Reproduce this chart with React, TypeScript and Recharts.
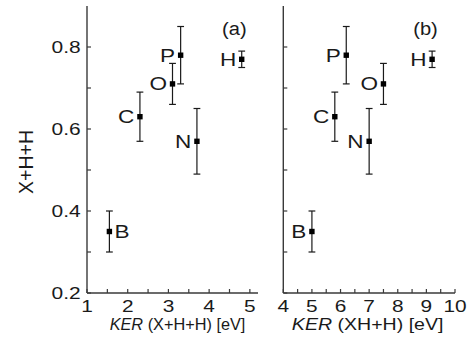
import React from 'react';
import { ScatterChart, Scatter, XAxis, YAxis, ErrorBar, ReferenceDot } from 'recharts';

// ---- data ----
const names = ['B', 'C', 'O', 'P', 'N', 'H'];
const kerA = [1.55, 2.3, 3.1, 3.3, 3.7, 4.8];
const kerB = [5.0, 5.8, 7.5, 6.2, 7.0, 9.2];
const fraction = [0.35, 0.63, 0.71, 0.78, 0.57, 0.77];
const fractionErr = [0.05, 0.06, 0.05, 0.07, 0.08, 0.02];
const labelSideA = ['right', 'left', 'left', 'left', 'left', 'left'];
const labelSideB = ['left', 'left', 'left', 'left', 'left', 'left'];

const xTicksA = [1, 1.5, 2, 2.5, 3, 3.5, 4, 4.5, 5];
const xTicksB = [4, 4.5, 5, 5.5, 6, 6.5, 7, 7.5, 8, 8.5, 9, 9.5, 10];
const xLabelsA = [1, 2, 3, 4, 5];
const xLabelsB = [4, 5, 6, 7, 8, 9, 10];
const yTicks = [0.2, 0.3, 0.4, 0.5, 0.6, 0.7, 0.8];
const yLabels = [0.2, 0.4, 0.6, 0.8];
const domainA = [1, 5.2];
const domainB = [4, 10];
const domainY = [0.2, 0.9];

const dataA = names.map((n, i) => ({ name: n, x: kerA[i], y: fraction[i], err: fractionErr[i], side: labelSideA[i] }));
const dataB = names.map((n, i) => ({ name: n, x: kerB[i], y: fraction[i], err: fractionErr[i], side: labelSideB[i] }));

// ---- styles ----
const FONT = '"Liberation Sans", Arial, Helvetica, sans-serif';
const INK = '#1a1a1a';
const FRAME = '#3a3a3a';

const Empty = () => <g />;

const makeXTick = (labels: number[], sx: number) => (p: any) => {
  const v = p.payload.value;
  if (!labels.some((l) => Math.abs(l - v) < 1e-9)) return <g />;
  return (
    <text transform={`translate(${p.x},${p.y}) scale(${sx},1)`} textAnchor="middle" dy="0.71em"
      fontSize={16.3} fontFamily={FONT} fill={INK}>{String(v)}</text>
  );
};

const makeYTick = (labels: number[], sx: number) => (p: any) => {
  const v = p.payload.value;
  if (!labels.some((l) => Math.abs(l - v) < 1e-9)) return <g />;
  return (
    <text transform={`translate(${p.x},${p.y}) scale(${sx},1)`} textAnchor="end" dy="0.355em"
      fontSize={16.5} fontFamily={FONT} fill={INK}>{v.toFixed(1)}</text>
  );
};

const makeXTitle = (inner: string, sx: number, dx: number) => (p: any) => {
  const vb = p.viewBox;
  const cx = vb.x + vb.width / 2 + dx;
  const by = vb.y + 37;
  return (
    <text transform={`translate(${cx},${by}) scale(${sx},1)`} textAnchor="middle" fontSize={16.3}
      fontFamily={FONT} fill={INK}>
      <tspan fontStyle="italic">KER</tspan>
      <tspan>{` (${inner}) [eV]`}</tspan>
    </text>
  );
};

const yTitle = (p: any) => {
  const vb = p.viewBox;
  const bx = vb.x + 33.3;
  const cy = vb.y + vb.height / 2 + 12.5;
  return (
    <text transform={`translate(${bx},${cy}) rotate(-90)`} textAnchor="middle" fontSize={19.5}
      fontFamily={FONT} fill={INK}>X+H+H</text>
  );
};

const pointShape = (p: any) => {
  const { cx, cy, payload } = p;
  const s = 5.4;
  const right = payload.side === 'right';
  return (
    <g>
      <rect x={cx - s / 2} y={cy - s / 2} width={s} height={s} fill="#000" />
      <text transform={`translate(${right ? cx + 5 : cx - 5.5},${cy}) scale(1.22,1)`}
        textAnchor={right ? 'start' : 'end'} dy="0.355em" fontSize={18.5} fontFamily={FONT} fill={INK}>
        {payload.name}
      </text>
    </g>
  );
};

const panelTag = (text: string) => (p: any) => (
  <text transform={`translate(${p.cx},${p.cy + 4.6}) scale(1.13,1)`} textAnchor="middle" fontSize={17.8}
    fontFamily={FONT} fill={INK}>{text}</text>
);

type PanelProps = {
  data: any[];
  width: number;
  yWidth: number;
  marginRight: number;
  xDomain: number[];
  xTicks: number[];
  xLabels: number[];
  title: string;
  titleScale: number;
  titleDx: number;
  showYLabels: boolean;
  tag: string;
  tagX: number;
};

function Panel(props: PanelProps) {
  const axisLine = { stroke: FRAME, strokeWidth: 1.4 };
  const tickLine = { stroke: FRAME, strokeWidth: 1.2 };
  return (
    <ScatterChart width={props.width} height={343} margin={{ top: 6, right: props.marginRight, bottom: 0, left: 0 }}>
      <XAxis xAxisId="b" dataKey="x" type="number" domain={props.xDomain} allowDataOverflow ticks={props.xTicks}
        interval={0} height={50} tickSize={-4} tickMargin={11} axisLine={axisLine} tickLine={tickLine}
        tick={makeXTick(props.xLabels, 1.28)} label={{ content: makeXTitle(props.title, props.titleScale, props.titleDx) }} />
      <XAxis xAxisId="t" orientation="top" type="number" domain={props.xDomain} allowDataOverflow ticks={props.xTicks}
        interval={0} height={0} tickSize={-4} axisLine={axisLine} tickLine={tickLine} tick={Empty} />
      <YAxis yAxisId="l" dataKey="y" type="number" domain={domainY} allowDataOverflow ticks={yTicks} interval={0}
        width={props.yWidth} tickSize={-4} tickMargin={10.3} axisLine={axisLine} tickLine={tickLine}
        tick={props.showYLabels ? makeYTick(yLabels, 1.27) : Empty}
        label={props.showYLabels ? { content: yTitle } : undefined} />
      <YAxis yAxisId="r" orientation="right" type="number" domain={domainY} allowDataOverflow ticks={yTicks}
        interval={0} width={0} tickSize={-4} axisLine={axisLine} tickLine={tickLine} tick={Empty} />
      <Scatter data={props.data} xAxisId="b" yAxisId="l" shape={pointShape} isAnimationActive={false}>
        <ErrorBar dataKey="err" direction="y" width={3.4} stroke={INK} strokeWidth={1.2} />
      </Scatter>
      <ReferenceDot xAxisId="b" yAxisId="l" x={props.tagX} y={0.84} r={0} shape={panelTag(props.tag)} />
    </ScatterChart>
  );
}

export default function App() {
  return (
    <div style={{ position: 'absolute', left: 0, top: 0, width: 469, height: 343, background: '#fff' }}>
      <div style={{ position: 'absolute', left: 0, top: 0 }}>
        <Panel data={dataA} width={262} yWidth={87} marginRight={4} xDomain={domainA} xTicks={xTicksA}
          xLabels={xLabelsA} title="X+H+H" titleScale={1.0} titleDx={5} showYLabels tag="(a)" tagX={4.62} />
      </div>
      <div style={{ position: 'absolute', left: 262, top: 0 }}>
        <Panel data={dataB} width={207} yWidth={21.3} marginRight={14} xDomain={domainB} xTicks={xTicksB}
          xLabels={xLabelsB} title="XH+H" titleScale={1.2} titleDx={-1.5} showYLabels={false} tag="(b)" tagX={8.97} />
      </div>
    </div>
  );
}
